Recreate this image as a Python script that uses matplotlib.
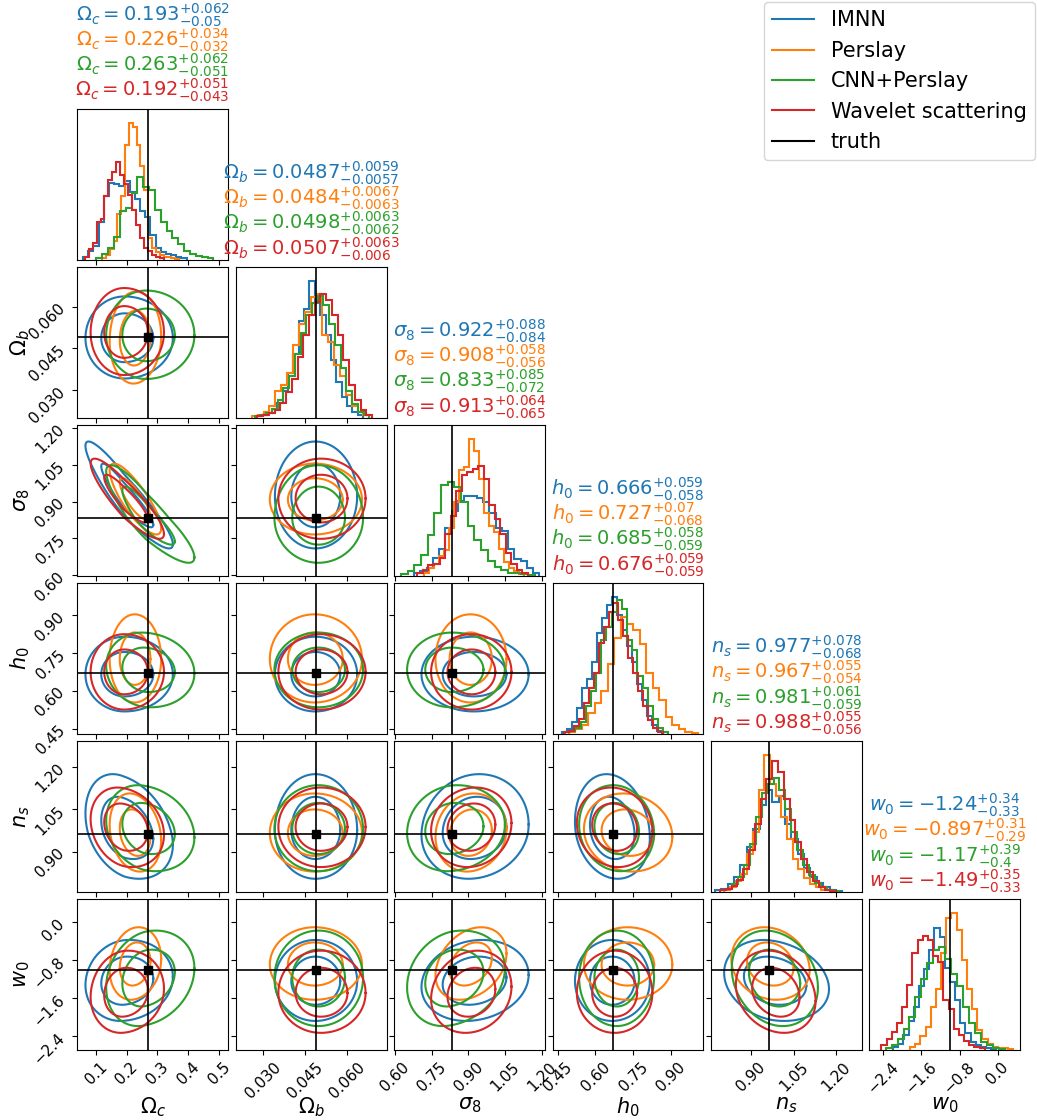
import numpy as np
import matplotlib
matplotlib.use("Agg")
import matplotlib.pyplot as plt
from matplotlib.lines import Line2D

# ---------------- data ----------------
series = ["IMNN", "Perslay", "CNN+Perslay", "Wavelet scattering"]
colors = ["#1f77b4", "#ff7f0e", "#2ca02c", "#d62728"]

param_sym = [r"\Omega_c", r"\Omega_b", r"\sigma_8", r"h_0", r"n_s", r"w_0"]
truth = [0.2685, 0.049, 0.834, 0.6711, 0.9624, -1.0]

axis_ranges = [(0.0395, 0.530), (0.0202, 0.0742), (0.5975, 1.212),
               (0.430, 1.028), (0.758, 1.291), (-2.687, 0.473)]
tick_values = [[0.1, 0.2, 0.3, 0.4, 0.5],
               [0.030, 0.045, 0.060],
               [0.60, 0.75, 0.90, 1.05, 1.20],
               [0.45, 0.60, 0.75, 0.90],
               [0.90, 1.05, 1.20],
               [-2.4, -1.6, -0.8, 0.0]]
tick_labels = [["0.1", "0.2", "0.3", "0.4", "0.5"],
               ["0.030", "0.045", "0.060"],
               ["0.60", "0.75", "0.90", "1.05", "1.20"],
               ["0.45", "0.60", "0.75", "0.90"],
               ["0.90", "1.05", "1.20"],
               ["\u22122.4", "\u22121.6", "\u22120.8", "0.0"]]

# medians and credible intervals (per series, per parameter)
medians = [[0.193, 0.0487, 0.922, 0.666, 0.977, -1.24],
           [0.226, 0.0484, 0.908, 0.727, 0.967, -0.897],
           [0.263, 0.0498, 0.833, 0.685, 0.981, -1.17],
           [0.192, 0.0507, 0.913, 0.676, 0.988, -1.49]]
err_plus = [[0.062, 0.0059, 0.088, 0.059, 0.078, 0.34],
            [0.034, 0.0067, 0.058, 0.07, 0.055, 0.31],
            [0.062, 0.0063, 0.085, 0.058, 0.061, 0.39],
            [0.051, 0.0063, 0.064, 0.059, 0.055, 0.35]]
err_minus = [[0.05, 0.0057, 0.084, 0.058, 0.068, 0.33],
             [0.032, 0.0063, 0.056, 0.068, 0.054, 0.29],
             [0.051, 0.0062, 0.072, 0.059, 0.059, 0.4],
             [0.043, 0.006, 0.065, 0.059, 0.056, 0.33]]

# 1D histograms: range and 20 bin heights per series per parameter
hist_lo = [[0.0584, 0.0274, 0.679, 0.467, 0.772, -2.19],
           [0.120, 0.026, 0.720, 0.4935, 0.805, -1.835],
           [0.102, 0.027, 0.625, 0.480, 0.790, -2.35],
           [0.064, 0.028, 0.6925, 0.474, 0.790, -2.435]]
hist_hi = [[0.395, 0.0658, 1.189, 0.863, 1.222, -0.027],
           [0.370, 0.068, 1.128, 1.008, 1.208, 0.33],
           [0.482, 0.068, 1.170, 0.889, 1.210, 0.162],
           [0.320, 0.069, 1.1417, 0.869, 1.200, -0.271]]
hist_counts = [
    [  # IMNN
        [2, 6, 9, 25, 42, 51, 50, 49, 52, 45, 40, 32, 28, 16, 8, 5, 4, 3, 2, 1],
        [1, 2, 3, 6, 10, 18, 30, 42, 64, 72, 91, 78, 68, 55, 38, 24, 14, 8, 4, 2],
        [2, 3, 5, 12, 18, 32, 43, 50, 53, 53, 52, 49, 42, 32, 30, 18, 11, 10, 5, 2],
        [1, 3, 8, 17, 30, 36, 47, 66, 76, 85, 90, 78, 68, 58, 47, 33, 22, 12, 6, 2],
        [1, 2, 5, 10, 18, 30, 42, 58, 68, 60, 64, 45, 35, 25, 16, 10, 6, 3, 1.5, 0.5],
        [2, 4, 10, 19, 28, 42, 53, 66, 80, 74, 54, 45, 33, 18, 11, 5, 3, 2, 1, 0.5],
    ],
    [  # Perslay
        [1, 3, 7, 12, 30, 42, 76, 91, 88, 76, 62, 46, 14, 8, 5, 3, 2, 1.5, 1, 0.5],
        [1, 2, 4, 8, 18, 22, 30, 48, 62, 70, 80, 82, 55, 50, 35, 28, 15, 8, 4, 2],
        [2, 5, 8, 13, 17, 32, 49, 70, 72, 91, 83, 64, 42, 33, 29, 18, 9, 5, 3, 1],
        [1.5, 3, 6, 14, 20, 28, 46, 63, 77, 72, 68, 59, 40, 30, 22, 11, 6, 3, 1.5, 0.5],
        [1, 3, 7, 12, 25, 40, 68, 91, 72, 64, 50, 35, 22, 15, 9, 5, 3, 1.5, 1, 0.5],
        [2, 4, 9, 15, 28, 40, 64, 87, 90, 79, 59, 40, 27, 13, 7, 4, 2, 1.5, 1, 0.5],
    ],
    [  # CNN+Perslay
        [1, 4, 8, 15, 32, 34, 44, 55, 48, 46, 33, 25, 19, 14, 10, 6, 4, 2.5, 1.5, 1],
        [1, 2, 3, 6, 12, 20, 28, 42, 56, 68, 76, 81, 75, 62, 48, 33, 18, 9, 4, 2],
        [1, 3, 7, 14, 27, 42, 60, 62, 59, 49, 33, 24, 17, 10, 6, 4, 2, 1.5, 1, 0.5],
        [1, 2, 4, 8, 18, 28, 40, 62, 70, 80, 88, 82, 62, 55, 38, 30, 18, 10, 4, 1],
        [1, 2, 5, 10, 18, 32, 50, 66, 72, 76, 68, 55, 40, 28, 18, 11, 6, 3, 1.5, 0.5],
        [1, 3, 7, 14, 22, 35, 47, 57, 66, 68, 60, 50, 42, 28, 18, 11, 5, 3, 1.5, 0.5],
    ],
    [  # Wavelet scattering
        [2, 7, 11, 25, 27, 42, 53, 58, 65, 56, 50, 43, 33, 23, 14, 8, 6, 3, 2, 1],
        [1, 2, 3, 5, 10, 17, 26, 40, 55, 68, 77, 82, 78, 68, 55, 38, 22, 12, 5, 2],
        [2, 4, 7, 8, 12, 28, 40, 56, 67, 69, 71, 73, 64, 47, 38, 28, 15, 8, 4, 1.5],
        [1, 2, 5, 10, 20, 30, 40, 60, 70, 80, 86, 75, 64, 50, 40, 28, 18, 9, 4, 1],
        [1, 2, 4, 8, 15, 28, 45, 62, 75, 87, 80, 62, 48, 33, 22, 13, 7, 3, 1.5, 0.5],
        [3, 7, 12, 18, 28, 43, 64, 72, 75, 72, 62, 58, 33, 27, 14, 10, 6, 3, 2, 1],
    ],
]

# pairwise correlation (x param, y param) -> per series
pair_corr = {
    (0, 1): [0.0, 0.05, 0.0, 0.0],
    (0, 2): [-0.92, -0.82, -0.88, -0.88],
    (0, 3): [0.0, 0.0, -0.1, 0.0],
    (0, 4): [-0.3, -0.2, -0.2, -0.2],
    (0, 5): [0.1, 0.15, 0.2, 0.1],
    (1, 2): [0.0, 0.0, 0.0, 0.0],
    (1, 3): [0.0, 0.0, 0.0, 0.0],
    (1, 4): [0.0, 0.0, 0.0, 0.0],
    (1, 5): [0.0, 0.0, 0.0, 0.0],
    (2, 3): [0.0, 0.0, 0.0, 0.0],
    (2, 4): [0.1, 0.1, 0.1, 0.1],
    (2, 5): [0.15, 0.3, 0.2, 0.15],
    (3, 4): [-0.15, -0.1, -0.1, -0.1],
    (3, 5): [0.0, 0.0, 0.0, 0.0],
    (4, 5): [-0.2, -0.15, -0.2, -0.2],
}
contour_levels = [0.68, 0.96]

# ---------------- figure ----------------
n = len(param_sym)
fig, axes = plt.subplots(n, n, figsize=(10.37, 11.2), dpi=100)
fig.subplots_adjust(left=0.0745, right=0.9839, bottom=0.0625, top=0.9027,
                    wspace=0.05, hspace=0.05)

t = np.linspace(0, 2 * np.pi, 361)
circle = np.vstack([np.cos(t), np.sin(t)])

for i in range(n):
    for j in range(n):
        ax = axes[i, j]
        if j > i:
            ax.set_axis_off()
            continue
        if i == j:
            for s in range(len(series)):
                cnt = hist_counts[s][i]
                edges = np.linspace(hist_lo[s][i], hist_hi[s][i], len(cnt) + 1)
                ax.stairs(cnt, edges, color=colors[s], lw=1.5)
            ax.axvline(truth[i], color="k", lw=1.2)
            ymax = max(max(hist_counts[s][i]) for s in range(len(series)))
            ax.set_ylim(0, 1.1 * ymax)
            ax.set_yticks([])
            for s in range(len(series)):
                txt = (f"${param_sym[i]} = {medians[s][i]:g}"
                       f"^{{+{err_plus[s][i]:g}}}_{{-{err_minus[s][i]:g}}}$")
                ax.text(0.5, 1.03 + (3 - s) * 0.168, txt, transform=ax.transAxes,
                        ha="center", va="bottom", color=colors[s], fontsize=14)
        else:
            for s in range(len(series)):
                rho = pair_corr[(j, i)][s]
                L = np.linalg.cholesky(np.array([[1.0, rho], [rho, 1.0]]))
                for lev in contour_levels:
                    r = np.sqrt(-2.0 * np.log(1.0 - lev))
                    u, v = r * (L @ circle)
                    x = medians[s][j] + np.where(u > 0, err_plus[s][j], err_minus[s][j]) * u
                    y = medians[s][i] + np.where(v > 0, err_plus[s][i], err_minus[s][i]) * v
                    ax.plot(x, y, color=colors[s], lw=1.5)
            ax.axvline(truth[j], color="k", lw=1.2)
            ax.axhline(truth[i], color="k", lw=1.2)
            ax.plot(truth[j], truth[i], "s", color="k", ms=6)
            ax.set_ylim(axis_ranges[i])
            ax.set_yticks(tick_values[i])
            if j == 0:
                ax.set_yticklabels(tick_labels[i], rotation=45, fontsize=11)
                ax.set_ylabel(f"${param_sym[i]}$", fontsize=15)
                ax.yaxis.set_label_coords(-0.3, 0.5)
            else:
                ax.set_yticklabels([])
        ax.set_xlim(axis_ranges[j])
        ax.set_xticks(tick_values[j])
        if i == n - 1:
            ax.set_xticklabels(tick_labels[j], rotation=45, fontsize=11)
            ax.set_xlabel(f"${param_sym[j]}$", fontsize=15)
            ax.xaxis.set_label_coords(0.5, -0.3)
        else:
            ax.set_xticklabels([])

handles = [Line2D([], [], color=c, lw=1.5) for c in colors] + \
          [Line2D([], [], color="k", lw=1.5)]
labels = series + ["truth"]
fig.legend(handles, labels, loc="upper right", bbox_to_anchor=(1.0, 1.0),
           fontsize=15, borderaxespad=0.1)

fig.savefig("out.png", dpi=100)
